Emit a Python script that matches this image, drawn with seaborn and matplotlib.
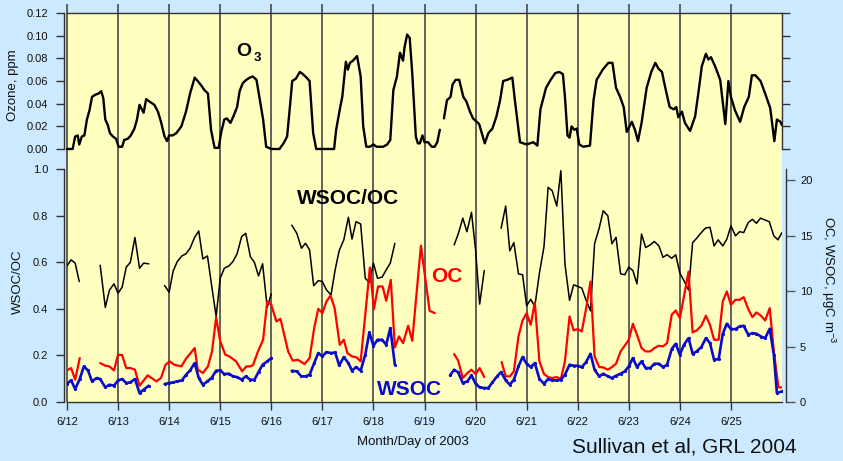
import numpy as np
import pandas as pd
import matplotlib
matplotlib.use("Agg")
import matplotlib.pyplot as plt
import seaborn as sns

nan = np.nan

# ---------------- data (day of June 2003, values) ----------------
oz_day = [12.00, 12.11, 12.16, 12.21, 12.24, 12.29, 12.34, 12.39, 12.44, 12.49,
          12.56, 12.62, 12.67, 12.71, 12.75, 12.80, 12.84, 12.90, 12.96, 13.01,
          13.08, 13.12, 13.19, 13.25, 13.32, 13.37, 13.42, 13.50, 13.55, 13.61,
          13.71, 13.78, 13.84, 13.91, 13.96, 14.00, 14.07, 14.14, 14.24, 14.33,
          14.41, 14.50, 14.56, 14.63, 14.69, 14.76, 14.82, 14.89, 14.97, 15.02,
          15.08, 15.13, 15.20, 15.26, 15.33, 15.38, 15.44, 15.51, 15.58, 15.64,
          15.71, 15.77, 15.84, 15.90, 16.00, 16.16, 16.24, 16.31, 16.36, 16.41,
          16.48, 16.56, 16.62, 16.69, 16.75, 16.82, 16.88, 17.23, 17.27, 17.35,
          17.39, 17.46, 17.50, 17.54, 17.60, 17.68, 17.75, 17.80, 17.86, 17.93,
          18.00, 18.06, 18.19, 18.27, 18.33, 18.39, 18.46, 18.52, 18.58, 18.61,
          18.66, 18.71, 18.76, 18.83, 18.87, 18.91, 18.96, 19.00, 19.07, 19.14,
          19.20, 19.25, 19.30, 19.34, 19.38, 19.44, 19.51, 19.55, 19.61, 19.68,
          19.76, 19.82, 19.89, 19.95, 20.07, 20.18, 20.25, 20.33, 20.41, 20.48,
          20.54, 20.62, 20.72, 20.77, 20.87, 21.00, 21.13, 21.21, 21.27, 21.38,
          21.47, 21.56, 21.64, 21.71, 21.75, 21.80, 21.84, 21.88, 21.93, 21.98,
          22.03, 22.11, 22.24, 22.31, 22.37, 22.49, 22.60, 22.68, 22.75, 22.83,
          22.90, 22.96, 23.06, 23.12, 23.18, 23.25, 23.35, 23.44, 23.52, 23.58,
          23.65, 23.71, 23.80, 23.88, 23.93, 23.97, 24.04, 24.10, 24.20, 24.30,
          24.37, 24.43, 24.51, 24.56, 24.61, 24.69, 24.79, 24.89, 24.95, 25.00,
          25.08, 25.18, 25.26, 25.35, 25.41, 25.48, 25.58, 25.67, 25.77, 25.85,
          25.90, 25.97, 26.00]
oz_ppm = [0.000, 0.000, 0.011, 0.012, 0.004, 0.011, 0.012, 0.026, 0.034, 0.046,
          0.048, 0.049, 0.051, 0.045, 0.026, 0.021, 0.014, 0.011, 0.009, 0.002,
          0.002, 0.008, 0.009, 0.012, 0.018, 0.026, 0.039, 0.032, 0.044, 0.042,
          0.039, 0.033, 0.024, 0.011, 0.007, 0.012, 0.012, 0.014, 0.020, 0.033,
          0.049, 0.063, 0.060, 0.056, 0.052, 0.049, 0.017, 0.001, 0.001, 0.015,
          0.026, 0.027, 0.023, 0.029, 0.037, 0.051, 0.058, 0.061, 0.063, 0.064,
          0.061, 0.045, 0.026, 0.002, 0.000, 0.000, 0.005, 0.011, 0.035, 0.060,
          0.062, 0.068, 0.066, 0.063, 0.060, 0.014, 0.000, 0.000, 0.017, 0.037,
          0.046, 0.077, 0.070, 0.076, 0.078, 0.082, 0.064, 0.020, 0.002, 0.002,
          0.004, 0.002, 0.002, 0.004, 0.008, 0.052, 0.064, 0.085, 0.078, 0.090,
          0.101, 0.098, 0.067, 0.011, 0.005, 0.005, 0.012, 0.006, 0.006, 0.002,
          0.002, 0.006, 0.017, nan, 0.027, 0.043, 0.046, 0.057, 0.061, 0.061,
          0.046, 0.042, 0.033, 0.027, 0.022, 0.005, 0.014, 0.018, 0.029, 0.043,
          0.060, 0.061, 0.063, 0.043, 0.006, 0.004, 0.006, 0.003, 0.035, 0.054,
          0.061, 0.067, 0.068, 0.066, 0.046, 0.012, 0.010, 0.020, 0.017, 0.018,
          0.004, 0.002, 0.003, 0.043, 0.061, 0.070, 0.076, 0.076, 0.054, 0.046,
          0.037, 0.015, 0.024, 0.017, 0.007, 0.023, 0.054, 0.068, 0.076, 0.071,
          0.068, 0.055, 0.037, 0.035, 0.037, 0.028, 0.033, 0.023, 0.016, 0.029,
          0.052, 0.073, 0.084, 0.079, 0.081, 0.073, 0.061, 0.022, 0.060, 0.046,
          0.034, 0.024, 0.037, 0.046, 0.065, 0.065, 0.060, 0.049, 0.036, 0.007,
          0.026, 0.024, 0.021]

ratio_day = [12.00, 12.08, 12.16, 12.24, 12.45,
             12.65, 12.75, 12.83, 12.92, 13.00, 13.08, 13.16, 13.24, 13.33, 13.42,
             13.50, 13.60, 13.75,
             13.91, 14.00, 14.08, 14.16, 14.25, 14.33, 14.41, 14.50, 14.58, 14.66,
             14.75, 14.83, 14.92, 15.00, 15.08, 15.17, 15.25, 15.33, 15.42, 15.50,
             15.59, 15.67, 15.75, 15.83, 15.92, 16.00, 16.20,
             16.40, 16.50, 16.59, 16.67, 16.75, 16.83, 16.92, 17.00, 17.08, 17.17,
             17.25, 17.33, 17.42, 17.51, 17.58, 17.66, 17.75, 17.84, 17.92, 18.00,
             18.08, 18.17, 18.25, 18.33, 18.42, 19.00,
             19.58, 19.66, 19.75, 19.83, 19.92, 20.00, 20.08, 20.17, 20.30,
             20.50, 20.59, 20.67, 20.75, 20.84, 20.92, 21.00, 21.08, 21.16, 21.25,
             21.34, 21.42, 21.50, 21.59, 21.67, 21.75, 21.84, 21.92, 22.00, 22.08,
             22.16, 22.25, 22.33, 22.42, 22.50, 22.59, 22.67, 22.75, 22.84, 22.92,
             23.00, 23.08, 23.16, 23.25, 23.33, 23.42, 23.50, 23.59, 23.67, 23.75,
             23.84, 23.92, 24.00, 24.08, 24.17, 24.25, 24.33, 24.42, 24.50, 24.59,
             24.67, 24.75, 24.84, 24.92, 25.00, 25.09, 25.17, 25.25, 25.34, 25.42,
             25.50, 25.58, 25.67, 25.75, 25.84, 25.92, 26.00]
ratio_val = [0.584, 0.610, 0.596, 0.517, nan,
             0.587, 0.406, 0.480, 0.507, 0.467, 0.493, 0.579, 0.599, 0.706, 0.574,
             0.596, 0.593, nan,
             0.500, 0.471, 0.563, 0.603, 0.627, 0.636, 0.660, 0.707, 0.734, 0.614,
             0.627, 0.503, 0.367, 0.531, 0.574, 0.584, 0.603, 0.636, 0.710, 0.724,
             0.624, 0.599, 0.541, 0.593, 0.406, 0.464, nan,
             0.759, 0.724, 0.660, 0.681, 0.653, 0.499, 0.521, 0.517, 0.481, 0.460,
             0.567, 0.650, 0.696, 0.793, 0.699, 0.774, 0.764, 0.531, 0.513, 0.596,
             0.531, 0.536, 0.567, 0.596, 0.681, nan,
             0.674, 0.721, 0.789, 0.731, 0.814, 0.653, 0.420, 0.564, nan,
             0.746, 0.841, 0.649, 0.684, 0.550, 0.546, 0.413, 0.441, 0.410, 0.553,
             0.667, 0.921, 0.907, 0.841, 0.993, 0.593, 0.436, 0.503, 0.496, 0.489,
             0.439, 0.391, 0.679, 0.746, 0.821, 0.799, 0.679, 0.707, 0.550, 0.546,
             0.579, 0.564, 0.507, 0.721, 0.663, 0.674, 0.689, 0.670, 0.621, 0.632,
             0.617, 0.632, 0.553, 0.521, 0.481, 0.684, 0.703, 0.727, 0.746, 0.750,
             0.670, 0.696, 0.670, 0.699, 0.756, 0.713, 0.731, 0.727, 0.770, 0.784,
             0.767, 0.789, 0.781, 0.774, 0.713, 0.696, 0.727]

oc_day = [12.00, 12.08, 12.16, 12.25, 12.45,
          12.65, 12.75, 12.83, 12.92, 13.00, 13.08, 13.16, 13.24, 13.33, 13.42,
          13.58, 13.75, 13.84, 13.93, 14.01, 14.10, 14.24, 14.33, 14.50, 14.56,
          14.66, 14.76, 14.84, 14.92, 15.00, 15.10, 15.18, 15.31, 15.43, 15.51,
          15.58, 15.64, 15.74, 15.84, 15.92, 16.00, 16.10, 16.18, 16.33, 16.42,
          16.52, 16.65, 16.75, 16.84, 16.92, 17.00, 17.08, 17.16, 17.24, 17.34,
          17.42, 17.49, 17.58, 17.67, 17.75, 17.84, 17.93, 18.01, 18.09, 18.18,
          18.25, 18.34, 18.42, 18.50, 18.58, 18.68, 18.76, 18.93, 19.10, 19.20,
          19.40,
          19.58, 19.66, 19.75, 19.84, 19.92, 20.00, 20.08, 20.17, 20.35,
          20.51, 20.59, 20.67, 20.75, 20.84, 20.92, 21.00, 21.08, 21.16, 21.25,
          21.34, 21.42, 21.50, 21.59, 21.67, 21.75, 21.84, 21.92, 22.00, 22.08,
          22.16, 22.25, 22.33, 22.42, 22.50, 22.59, 22.67, 22.75, 22.84, 22.92,
          23.00, 23.08, 23.16, 23.25, 23.33, 23.42, 23.50, 23.59, 23.67, 23.75,
          23.84, 23.92, 24.00, 24.08, 24.17, 24.25, 24.33, 24.42, 24.51, 24.59,
          24.67, 24.76, 24.84, 24.92, 25.00, 25.09, 25.17, 25.25, 25.34, 25.42,
          25.50, 25.59, 25.67, 25.76, 25.84, 25.93, 26.00]
oc_val = [2.85, 3.06, 2.01, 3.96, nan,
          3.51, 3.27, 3.21, 2.85, 4.26, 4.23, 3.06, 3.06, 2.91, 1.47,
          2.40, 1.86, 2.16, 3.36, 3.66, 3.36, 3.21, 3.90, 4.86, 2.91,
          2.61, 3.21, 4.56, 7.62, 5.46, 4.26, 4.11, 3.66, 2.76, 3.21,
          3.21, 3.30, 4.56, 5.61, 9.06, 8.76, 7.26, 7.50, 4.56, 3.72,
          3.81, 3.42, 3.96, 6.66, 8.40, 8.01, 9.06, 9.60, 8.46, 5.16,
          5.61, 4.41, 4.11, 4.02, 3.66, 7.86, 12.12, 8.37, 10.41, 10.41,
          9.12, 11.01, 4.92, 5.91, 5.31, 6.87, 5.52, 14.10, 8.22, 8.01,
          nan,
          4.32, 3.72, 2.16, 2.61, 2.91, 2.52, 3.06, 2.25, nan,
          3.60, 2.31, 2.31, 2.76, 5.91, 7.35, 8.00, 6.96, 8.97, 3.66,
          2.52, 2.25, 2.16, 2.25, 2.07, 3.66, 7.71, 6.45, 6.57, 6.36,
          8.31, 10.85, 4.11, 3.15, 3.12, 2.91, 3.15, 3.45, 4.56, 5.07,
          5.61, 7.05, 6.06, 4.86, 4.56, 4.56, 4.86, 5.07, 5.01, 5.31,
          7.86, 8.25, 7.56, 9.51, 11.75, 6.27, 6.45, 6.87, 7.77, 6.96,
          5.61, 5.61, 9.06, 9.96, 8.76, 9.21, 9.21, 9.45, 8.37, 7.65,
          8.07, 7.77, 7.35, 8.46, 4.56, 1.32, 1.32]

wsoc_day = [12.00, 12.08, 12.16, 12.25, 12.33, 12.41, 12.49, 12.58, 12.65, 12.75,
            12.83, 12.92, 13.00, 13.08, 13.16, 13.24, 13.33, 13.42, 13.50, 13.60,
            13.75,
            13.91, 14.00, 14.08, 14.16, 14.25, 14.33, 14.41, 14.50, 14.58, 14.66,
            14.75, 14.83, 14.92, 15.00, 15.08, 15.17, 15.25, 15.33, 15.42, 15.50,
            15.59, 15.67, 15.75, 15.83, 15.92, 16.00, 16.20,
            16.40, 16.50, 16.59, 16.67, 16.75, 16.84, 16.92, 17.00, 17.08, 17.17,
            17.25, 17.33, 17.42, 17.51, 17.58, 17.66, 17.75, 17.84, 17.92, 18.00,
            18.08, 18.17, 18.25, 18.33, 18.42, 19.00,
            19.50, 19.58, 19.66, 19.75, 19.84, 19.92, 20.00, 20.08, 20.17, 20.25,
            20.33, 20.42, 20.50, 20.59, 20.67, 20.75, 20.84, 20.92, 21.00, 21.08,
            21.16, 21.25, 21.34, 21.42, 21.50, 21.59, 21.67, 21.75, 21.84, 21.92,
            22.00, 22.08, 22.16, 22.25, 22.33, 22.42, 22.50, 22.59, 22.67, 22.75,
            22.84, 22.92, 23.00, 23.08, 23.16, 23.25, 23.33, 23.42, 23.50, 23.59,
            23.67, 23.75, 23.84, 23.92, 24.00, 24.08, 24.17, 24.25, 24.33, 24.42,
            24.51, 24.59, 24.67, 24.76, 24.84, 24.92, 25.00, 25.09, 25.17, 25.25,
            25.34, 25.42, 25.50, 25.59, 25.67, 25.76, 25.84, 25.90, 26.00]
wsoc_val = [1.65, 1.95, 1.17, 2.07, 3.21, 2.85, 1.86, 2.16, 2.07, 1.32,
            1.56, 1.47, 1.95, 2.07, 1.71, 1.77, 2.07, 0.81, 1.11, 1.47,
            nan,
            1.62, 1.71, 1.77, 1.86, 1.95, 2.46, 2.85, 3.51, 2.16, 1.56,
            1.86, 2.16, 2.82, 2.85, 2.52, 2.55, 2.31, 2.25, 2.01, 2.31,
            2.01, 2.01, 2.70, 3.36, 3.66, 3.96, nan,
            2.82, 2.76, 2.31, 2.31, 2.46, 3.51, 4.41, 4.11, 4.50, 4.41,
            4.47, 3.30, 4.05, 3.51, 2.82, 3.15, 2.82, 4.26, 6.27, 5.07,
            5.61, 5.61, 5.16, 6.66, 3.36, nan,
            2.40, 2.91, 2.67, 1.71, 1.86, 2.40, 1.65, 1.32, 1.26, 1.26,
            1.77, 2.31, 2.70, 1.95, 1.56, 2.01, 3.21, 4.05, 3.45, 3.15,
            3.51, 2.07, 1.65, 2.07, 1.95, 1.95, 2.01, 2.46, 3.36, 3.27,
            3.27, 3.15, 3.57, 4.35, 2.91, 2.31, 2.55, 2.31, 2.16, 2.37,
            2.55, 2.76, 3.21, 3.96, 3.15, 3.66, 3.06, 3.06, 3.45, 3.45,
            3.15, 3.36, 4.77, 5.25, 4.26, 5.16, 5.76, 4.35, 4.56, 4.95,
            5.76, 5.31, 3.81, 3.87, 6.15, 7.05, 6.57, 6.57, 6.81, 6.87,
            6.06, 6.21, 6.15, 5.90, 5.76, 6.60, 4.26, 0.81, 0.96]

day_ticks = [12, 13, 14, 15, 16, 17, 18, 19, 20, 21, 22, 23, 24, 25]
day_labels = ["6/12", "6/13", "6/14", "6/15", "6/16", "6/17", "6/18",
              "6/19", "6/20", "6/21", "6/22", "6/23", "6/24", "6/25"]
oz_ticks = [0.00, 0.02, 0.04, 0.06, 0.08, 0.10, 0.12]
ratio_ticks = [0.0, 0.2, 0.4, 0.6, 0.8, 1.0]
conc_ticks = [0, 5, 10, 15, 20]


def segments(days, vals):
    df = pd.DataFrame({"day": days, "val": vals})
    df["seg"] = df["val"].isna().cumsum()
    return df.dropna()


# ---------------- style ----------------
sns.set_theme(style="white")
plt.rcParams['font.family'] = ['Liberation Sans', 'DejaVu Sans']
plt.rcParams['mathtext.fontset'] = 'custom'
plt.rcParams['mathtext.rm'] = 'Liberation Sans'
plt.rcParams['mathtext.it'] = 'Liberation Sans:italic'
plt.rcParams['mathtext.bf'] = 'Liberation Sans:bold'

BG = "#CCE9FF"
YEL = "#FFFFC0"
GRID = "#555555"
SPINE = "#333333"
RED = "#FF0000"
BLUE = "#0A0ACC"

W, H = 843, 461
fig = plt.figure(figsize=(W / 100, H / 100), dpi=100, facecolor=BG)


def fx(px):
    return px / W


def fy(py):
    return 1 - py / H


X0, X1 = 67, 782
TOP0, TOP1 = 13, 149
BOT0, BOT1 = 169, 402

# yellow background + day lines
ax_bg = fig.add_axes([fx(X0), fy(BOT1), (X1 - X0) / W, (BOT1 - TOP0) / H])
ax_bg.set_facecolor(YEL)
ax_bg.set_xlim(12, 26)
ax_bg.set_ylim(0, 1)
for s in ax_bg.spines.values():
    s.set_visible(False)
ax_bg.set_xticks([])
ax_bg.set_yticks([])
ax_bg.vlines(day_ticks, 0, 1 + 9 / (BOT1 - TOP0), transform=ax_bg.get_xaxis_transform(),
             color=GRID, lw=1.3, clip_on=False)

# ---------------- ozone panel ----------------
ax_t = fig.add_axes([fx(X0), fy(TOP1), (X1 - X0) / W, (TOP1 - TOP0) / H])
ax_t.patch.set_alpha(0)
oz = segments(oz_day, oz_ppm)
sns.lineplot(data=oz, x="day", y="val", units="seg", estimator=None, sort=False,
             color="black", lw=1.7, ax=ax_t, legend=False)
for ln in ax_t.lines:
    ln.set_clip_on(False)
ax_t.set_xlim(12, 26)
ax_t.set_ylim(0, 0.12)
ax_t.set_xticks([])
ax_t.set_yticks(oz_ticks)
ax_t.set_yticklabels([f"{v:.2f}" for v in oz_ticks])
ax_t.set_xlabel("")
ax_t.set_ylabel("")
ax_t.spines['bottom'].set_visible(False)
ax_t.spines['left'].set_position(('outward', 2.5))
for k in ['left', 'right', 'top']:
    ax_t.spines[k].set_visible(True)
    ax_t.spines[k].set_color(SPINE)
    ax_t.spines[k].set_linewidth(1.0)
ax_t.tick_params(axis='y', which='both', left=True, right=True, labelleft=True,
                 labelright=False, direction='out', length=6, width=1,
                 color=SPINE, labelsize=8, pad=5, labelcolor="#111111")

# ---------------- aerosol panel ----------------
ax_b = fig.add_axes([fx(X0), fy(BOT1), (X1 - X0) / W, (BOT1 - BOT0) / H])
ax_b.patch.set_alpha(0)
rt = segments(ratio_day, ratio_val)
sns.lineplot(data=rt, x="day", y="val", units="seg", estimator=None, sort=False,
             color="black", lw=1.1, ax=ax_b, legend=False)
ax_b.set_xlim(12, 26)
ax_b.set_ylim(0, 1.0)
ax_b.set_xticks(day_ticks)
ax_b.set_xticklabels(day_labels)
ax_b.set_yticks(ratio_ticks)
ax_b.set_yticklabels([f"{v:.1f}" for v in ratio_ticks])
ax_b.set_xlabel("")
ax_b.set_ylabel("")
ax_b.spines['top'].set_visible(False)
ax_b.spines['right'].set_visible(False)
ax_b.spines['left'].set_position(('outward', 2.5))
for k in ['left', 'bottom']:
    ax_b.spines[k].set_visible(True)
    ax_b.spines[k].set_color(SPINE)
    ax_b.spines[k].set_linewidth(1.0)
ax_b.tick_params(axis='both', which='both', direction='out', length=6, width=1,
                 color=SPINE, labelsize=8, pad=5, labelcolor="#111111")
ax_b.tick_params(axis='x', bottom=True)
ax_b.tick_params(axis='y', left=True)

ax_r = ax_b.twinx()
ax_r.patch.set_alpha(0)
oc = segments(oc_day, oc_val)
ws = segments(wsoc_day, wsoc_val)
sns.lineplot(data=oc, x="day", y="val", units="seg", estimator=None, sort=False,
             color=RED, lw=1.6, ax=ax_r, legend=False)
sns.lineplot(data=ws, x="day", y="val", units="seg", estimator=None, sort=False,
             color=BLUE, lw=1.9, marker="o", markersize=2.3, markeredgewidth=0,
             ax=ax_r, legend=False)
ax_r.set_xlim(12, 26)
ax_r.set_ylim(0, 21)
ax_r.set_yticks(conc_ticks)
ax_r.set_yticklabels([str(v) for v in conc_ticks])
ax_r.set_xlabel("")
ax_r.set_ylabel("")
for k in ['left', 'top', 'bottom']:
    ax_r.spines[k].set_visible(False)
ax_r.spines['right'].set_visible(True)
ax_r.spines['right'].set_position(('outward', 3))
ax_r.spines['right'].set_color(SPINE)
ax_r.spines['right'].set_linewidth(1.0)
ax_r.tick_params(axis='y', right=True, direction='out', length=6.5, width=1,
                 color="#555555", labelsize=8, pad=3.5, labelcolor="#111111")

# ---------------- texts ----------------
fig.text(fx(13), fy(85), "Ozone, ppm", rotation=90, ha="center", va="center",
         fontsize=9.5, color="#111111")
fig.text(fx(18), fy(282), "WSOC/OC", rotation=90, ha="center", va="center",
         fontsize=9.5, color="#111111")
fig.text(fx(828), fy(280), "OC, WSOC, µgC m$^{-3}$", rotation=270, ha="center",
         va="center", fontsize=9.5, color="#111111")
fig.text(fx(413), fy(442), "Month/Day of 2003", ha="center", va="center",
         fontsize=9.5, color="#111111")
fig.text(fx(684), fy(447), "Sullivan et al, GRL 2004", ha="center", va="center",
         fontsize=15, color="#111111")

fig.text(fx(348), fy(198), "WSOC/OC", ha="center", va="center", fontsize=15,
         fontweight="bold", color="black")
fig.text(fx(447), fy(277), "OC", ha="center", va="center", fontsize=15,
         fontweight="bold", color=RED)
fig.text(fx(410), fy(389), "WSOC", ha="center", va="center", fontsize=15,
         fontweight="bold", color=BLUE)
fig.text(fx(244), fy(51), "O", ha="center", va="center", fontsize=14,
         fontweight="bold", color="black")
fig.text(fx(257), fy(58), "3", ha="center", va="center", fontsize=9.5,
         fontweight="bold", color="black")

fig.savefig("out.png", dpi=100, facecolor=BG)
